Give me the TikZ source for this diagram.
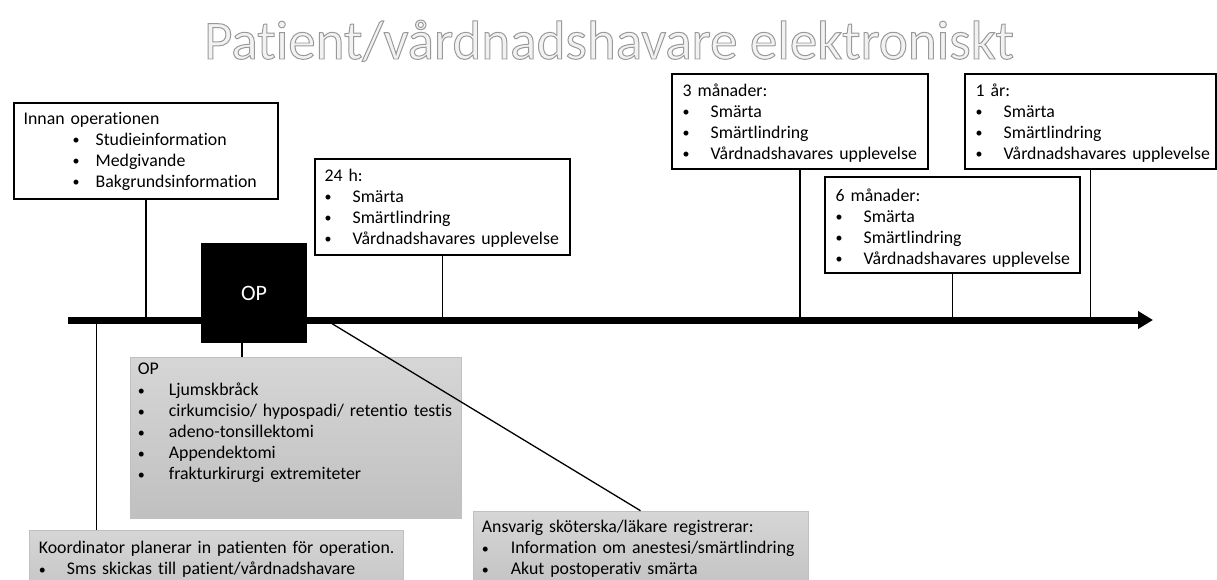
\documentclass[tikz,border=0pt]{standalone}
\usepackage{fontspec}
\setmainfont{Carlito}[Ligatures=NoCommon]
\newfontfamily\titlefont[FakeBold=1.8, Ligatures=NoCommon]{Carlito}
\usetikzlibrary{arrows.meta,positioning}
\definecolor{silver}{RGB}{242,242,242}
\definecolor{clouds}{RGB}{214,214,214}
\definecolor{asbestos}{RGB}{192,192,192}
\newcommand{\pkt}[1][28pt]{\makebox[#1][l]{\raisebox{0.5pt}{\fontsize{14}{14}\selectfont\textbullet}}}

\begin{document}
\begin{tikzpicture}[x=1pt, y=-1pt,
    every node/.style={font=\fontsize{17.8}{21}\selectfont},
    whitebox/.style={draw, line width=1.2pt, fill=white, inner sep=0pt, minimum height=96pt},
    graybox/.style={draw=asbestos, line width=0.6pt, top color=clouds, bottom color=asbestos, inner sep=0pt},
    boxtext/.style={anchor=base west, align=left, inner sep=0pt, text width=400pt},
    stem/.style={line width=1.3pt}]
  \clip (0,0) rectangle (1217,580);
  \coordinate (tlstart)  at (68,320);
  \coordinate (tlend)    at (1153,320);
  \coordinate (regstart) at (326,320);

  \node[whitebox, minimum width=264pt] (innan) at (146.0,151.0) {};
  \node[boxtext] (innantext) at ([xshift=10pt, yshift=-22pt]innan.north west) {Innan operationen\\
    \hspace*{49pt}\pkt[23pt]Studieinformation\\
    \hspace*{49pt}\pkt[23pt]Medgivande\\
    \hspace*{49pt}\pkt[23pt]Bakgrundsinformation};
  \node[whitebox, minimum width=255pt] (h24) at (442.5,207.0) {};
  \node[boxtext] (h24text) at ([xshift=10pt, yshift=-23pt]h24.north west) {24 h:\\ \pkt Smärta\\ \pkt Smärtlindring\\ \pkt Vårdnadshavares upplevelse};
  \node[whitebox, minimum width=256pt, minimum height=95pt] (m3) at (800.0,121.5) {};
  \node[boxtext] (m3text) at ([xshift=11pt, yshift=-23pt]m3.north west) {3 månader:\\ \pkt Smärta\\ \pkt Smärtlindring\\ \pkt Vårdnadshavares upplevelse};
  \node[whitebox, minimum width=255pt] (m6) at (952.5,225.0) {};
  \node[boxtext] (m6text) at ([xshift=11pt, yshift=-25pt]m6.north west) {6 månader:\\ \pkt Smärta\\ \pkt Smärtlindring\\ \pkt Vårdnadshavares upplevelse};
  \node[whitebox, minimum width=251pt, minimum height=95pt] (y1) at (1090.5,121.5) {};
  \node[boxtext] (y1text) at ([xshift=11pt, yshift=-23pt]y1.north west) {1 år:\\ \pkt Smärta\\ \pkt Smärtlindring\\ \pkt Vårdnadshavares upplevelse};

  \node[graybox, minimum width=331pt, minimum height=161pt] (opinfo) at (295.5,437.5) {};
  \node[boxtext] (optext) at ([xshift=8pt, yshift=-18pt]opinfo.north west) {OP\\
    \pkt[31pt]Ljumskbråck\\
    \pkt[31pt]cirkumcisio/ hypospadi/ retentio testis\\
    \pkt[31pt]adeno-tonsillektomi\\
    \pkt[31pt]Appendektomi\\
    \pkt[31pt]frakturkirurgi extremiteter};
  \node[graybox, minimum width=374pt, minimum height=80pt] (koord) at (216.0,570.0) {};
  \node[boxtext] (koordtext) at ([xshift=10pt, yshift=-24pt]koord.north west) {Koordinator planerar in patienten för operation.\\
    \pkt Sms skickas till patient/vårdnadshavare};
  \node[graybox, minimum width=335pt, minimum height=89pt] (ansv) at (640.5,555.5) {};
  \node[boxtext] (ansvtext) at ([xshift=9pt, yshift=-22pt]ansv.north west) {Ansvarig sköterska/läkare registrerar:\\
    \pkt[29pt]Information om anestesi/smärtlindring\\
    \pkt[29pt]Akut postoperativ smärta};

  \coordinate (koordtop) at ([xshift=68pt]koord.north west);
  \draw[stem] (innan.south) -- (innan.south |- tlstart);
  \draw[stem] (h24.south)   -- (h24.south |- tlstart);
  \draw[stem] (m3.south)    -- (m3.south |- tlstart);
  \draw[stem] (m6.south)    -- (m6.south |- tlstart);
  \draw[stem] (y1.south)    -- (y1.south |- tlstart);
  \draw[stem] (koordtop)    -- (koordtop |- tlstart);
  \draw[stem] (regstart)    -- (ansv.north);
  \draw[line width=7pt, -{Triangle[length=15pt, width=17pt]}] (tlstart) -- (tlend);

  \node[fill=black, text=white, minimum width=106pt, minimum height=100pt, font=\fontsize{22}{26}\selectfont] (op) at (254,293) {OP};
  \coordinate (opfoot) at ([xshift=-12pt]op.south);
  \draw[stem] (opfoot) -- (opfoot |- opinfo.north);

  \node[anchor=base, text=silver, font=\titlefont\fontsize{55}{60}\selectfont] (title) at (609,59) {\special{pdf:literal direct 0.6 G}Patient/vårdnadshavare elektroniskt};
\end{tikzpicture}
\end{document}
